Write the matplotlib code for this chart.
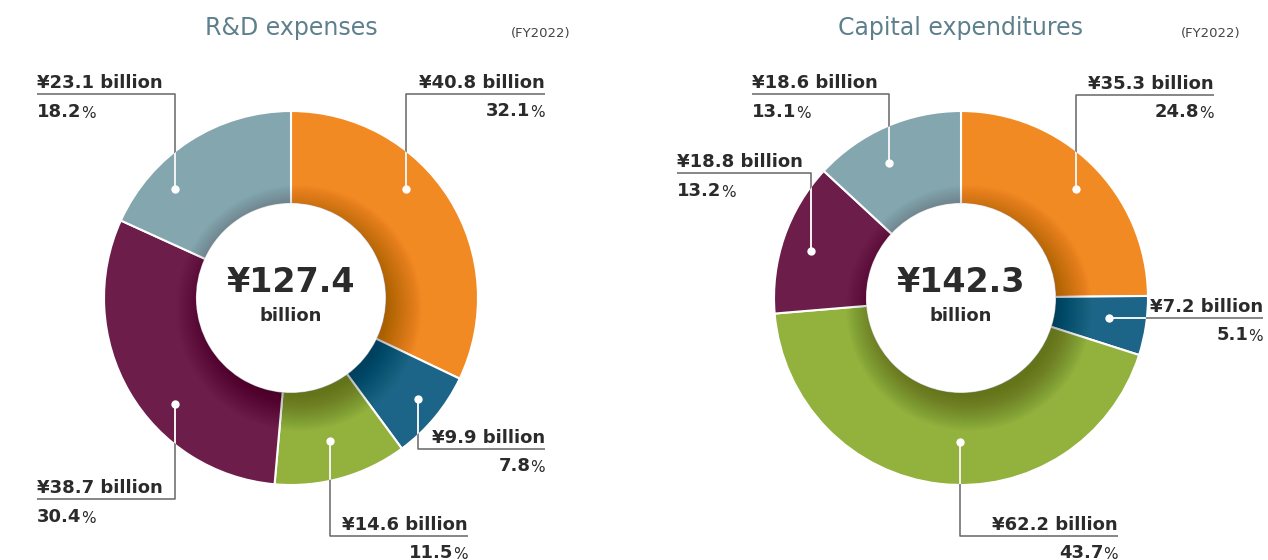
import matplotlib
matplotlib.use("Agg")
import matplotlib.pyplot as plt
from matplotlib.patches import Circle

plt.rcParams['font.family'] = ['DejaVu Sans']

# data
colors = ['#F28A23', '#1C6588', '#92B13D', '#6D1D4A', '#84A6AF']

rd_billion = [40.8, 9.9, 14.6, 38.7, 23.1]
rd_share = [32.1, 7.8, 11.5, 30.4, 18.2]
rd_total = 127.4

capex_billion = [35.3, 7.2, 62.2, 18.8, 18.6]
capex_share = [24.8, 5.1, 43.7, 13.2, 13.1]
capex_total = 142.3

titles = ['R&D expenses', 'Capital expenditures']
period = '(FY2022)'

W, H = 1268, 560
TXT = '#2B2B2B'
LINE = '#666666'


def Y(py):
    # pixel rows (top origin) -> data y
    return H - py


# leader layout in pixels: (dot_x, dot_y, line_y, line_end_x)
# line goes dot -> (dot_x, line_y) -> (line_end_x, line_y)
rd_leaders = [
    (406, 189, 94, 545),
    (418, 399, 449, 545),
    (330, 441, 536, 468),
    (175, 404, 499, 37),
    (175, 189, 94, 37),
]
capex_leaders = [
    (1076, 189, 95, 1214),
    (1109, 318, 318, 1263),
    (960, 442, 536, 1118),
    (811, 251, 173, 677),
    (889, 163, 94, 752),
]

fig = plt.figure(figsize=(W / 100, H / 100), dpi=100)
ax = fig.add_axes([0, 0, 1, 1])


def donut(cx, cy, billion, share, total, leaders, title, fy_right):
    R, r = 187, 94
    c = (cx, Y(cy))
    wedges, _ = ax.pie(share, colors=colors, startangle=90, counterclock=False,
                       radius=R, center=c, frame=True,
                       wedgeprops=dict(width=R - r, edgecolor='white', linewidth=1.5))
    for w in wedges:
        w.set_zorder(1)

    # soft shadow of the hole onto the ring (falls down-right)
    for i in range(36):
        ax.add_patch(Circle((cx + 8, Y(cy) - 10), r - 6 + i,
                            fc='black', ec='none', alpha=0.009, zorder=2))
    ax.add_patch(Circle(c, r + 0.5, fc='white', ec='none', zorder=3))

    clip = Circle(c, R - 1, transform=ax.transData)

    for (dx, dy, ly, ex), b, s in zip(leaders, billion, share):
        xs = [dx, dx, ex]
        ys = [Y(dy), Y(ly), Y(ly)]
        ax.plot(xs, ys, color=LINE, lw=1.1, zorder=4, solid_capstyle='butt')
        wl, = ax.plot(xs, ys, color='white', lw=1.3, zorder=5)
        wl.set_clip_path(clip)
        ax.plot(dx, Y(dy), 'o', color='white', ms=6, mec='none', zorder=6)

        right = ex > dx
        ha = 'right' if right else 'left'
        ax.text(ex, Y(ly - 6), f'¥{b} billion', ha=ha, va='baseline',
                fontsize=13, fontweight='bold', color=TXT, zorder=7)
        if right:
            p = ax.text(ex, Y(ly + 23), '%', ha='right', va='baseline',
                        fontsize=11, color=TXT)
            ax.annotate(f'{s}', xy=(0, 0), xycoords=p, ha='right', va='bottom',
                        fontsize=13, fontweight='bold', color=TXT)
        else:
            n = ax.text(ex, Y(ly + 23), f'{s}', ha='left', va='baseline',
                        fontsize=13, fontweight='bold', color=TXT)
            ax.annotate('%', xy=(1, 0), xycoords=n, ha='left', va='bottom',
                        fontsize=11, color=TXT)

    ax.text(cx, Y(283), f'¥{total}', ha='center', va='center',
            fontsize=24, fontweight='bold', color=TXT, zorder=7)
    ax.text(cx, Y(316), 'billion', ha='center', va='center',
            fontsize=13, fontweight='bold', color=TXT, zorder=7)

    ax.text(cx, Y(28), title, ha='center', va='center', fontsize=17,
            color='#5E808C')
    ax.text(fy_right, Y(33), period, ha='right', va='center', fontsize=9.5,
            color='#444444')


donut(291, 298, rd_billion, rd_share, rd_total, rd_leaders, titles[0], 571)
donut(961, 298, capex_billion, capex_share, capex_total, capex_leaders, titles[1], 1241)

ax.set_xlim(0, W)
ax.set_ylim(0, H)
ax.set_aspect('equal')
ax.axis('off')

fig.savefig('out.png', dpi=100, facecolor='white')
